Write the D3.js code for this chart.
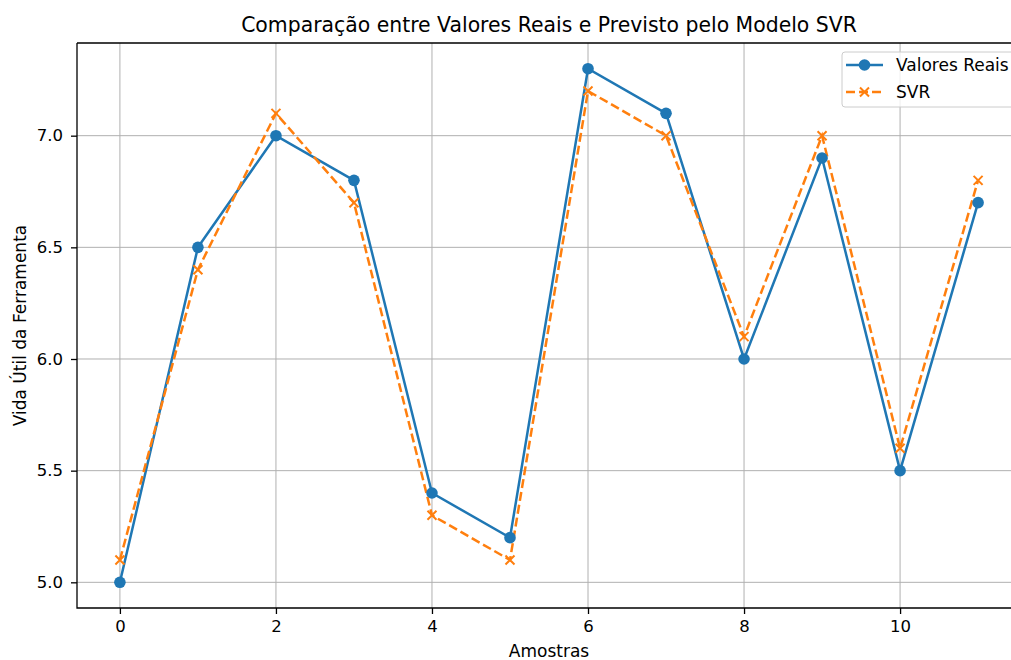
<!DOCTYPE html>
<html>
<head>
<meta charset="utf-8">
<script src="https://cdn.jsdelivr.net/npm/d3@7"></script>
<style>
  body { margin: 0; background: #fff; }
  text { font-family: "DejaVu Sans", sans-serif; fill: #000; }
</style>
</head>
<body>
<div id="chart"></div>
<script>
const samples = [0, 1, 2, 3, 4, 5, 6, 7, 8, 9, 10, 11];
const realValues = [5.0, 6.5, 7.0, 6.8, 5.4, 5.2, 7.3, 7.1, 6.0, 6.9, 5.5, 6.7];
const svrValues = [5.1, 6.4, 7.1, 6.7, 5.3, 5.1, 7.2, 7.0, 6.1, 7.0, 5.6, 6.8];
const xTicks = [0, 2, 4, 6, 8, 10];
const yTicks = [5.0, 5.5, 6.0, 6.5, 7.0];

const width = 1011;
const height = 660;
const margin = { left: 77, top: 43, right: 1021, bottom: 608 };

const svg = d3.select("#chart").append("svg")
  .attr("width", width)
  .attr("height", height);

const x = d3.scaleLinear().domain([-0.55, 11.55]).range([margin.left, margin.right]);
const y = d3.scaleLinear().domain([4.885, 7.415]).range([margin.bottom, margin.top]);

// grid
const grid = svg.append("g").attr("stroke", "#b0b0b0").attr("stroke-width", 1);
grid.selectAll(".vx").data(xTicks).join("line")
  .attr("x1", (d) => x(d)).attr("x2", (d) => x(d))
  .attr("y1", margin.top).attr("y2", margin.bottom);
grid.selectAll(".hy").data(yTicks).join("line")
  .attr("x1", margin.left).attr("x2", margin.right)
  .attr("y1", (d) => y(d)).attr("y2", (d) => y(d));

// axes
const xAxis = svg.append("g")
  .attr("transform", `translate(0,${margin.bottom})`)
  .call(d3.axisBottom(x).tickValues(xTicks).tickFormat(d3.format("d")).tickSize(6).tickPadding(6));
const yAxis = svg.append("g")
  .attr("transform", `translate(${margin.left},0)`)
  .call(d3.axisLeft(y).tickValues(yTicks).tickFormat(d3.format(".1f")).tickSize(6).tickPadding(8));
[xAxis, yAxis].forEach((a) => {
  a.select(".domain").remove();
  a.selectAll("text").attr("font-size", 16.5).attr("font-family", "DejaVu Sans, sans-serif").attr("fill", "#000");
  a.selectAll("line").attr("stroke", "#000").attr("stroke-width", 1.3);
});

// frame
svg.append("path")
  .attr("d", `M${margin.left},${margin.top}H${margin.right}M${margin.left},${margin.top}V${margin.bottom}H${margin.right}`)
  .attr("fill", "none").attr("stroke", "#000").attr("stroke-width", 1.3);

const blue = "#1f77b4";
const orange = "#ff7f0e";

const line = (vals) => d3.line().x((d, i) => x(samples[i])).y((d) => y(d))(vals);

svg.append("path").attr("d", line(realValues))
  .attr("fill", "none").attr("stroke", blue).attr("stroke-width", 2.5);
svg.append("path").attr("d", line(svrValues))
  .attr("fill", "none").attr("stroke", orange).attr("stroke-width", 2.5).attr("stroke-dasharray", "9,4");

svg.append("g").selectAll("circle").data(realValues).join("circle")
  .attr("cx", (d, i) => x(samples[i])).attr("cy", (d) => y(d)).attr("r", 5.8).attr("fill", blue);

const cross = (g, cx, cy) => {
  g.append("path")
    .attr("d", `M${cx - 4.5},${cy - 4.5}L${cx + 4.5},${cy + 4.5}M${cx - 4.5},${cy + 4.5}L${cx + 4.5},${cy - 4.5}`)
    .attr("stroke", orange).attr("stroke-width", 2);
};
const crosses = svg.append("g");
svrValues.forEach((d, i) => cross(crosses, x(samples[i]), y(d)));

// legend
const lg = svg.append("g");
lg.append("rect").attr("x", 842).attr("y", 52).attr("width", 190).attr("height", 55).attr("rx", 3)
  .attr("fill", "#fff").attr("fill-opacity", 0.8).attr("stroke", "#cccccc");
lg.append("line").attr("x1", 846).attr("x2", 883).attr("y1", 65).attr("y2", 65).attr("stroke", blue).attr("stroke-width", 2.5);
lg.append("circle").attr("cx", 864.5).attr("cy", 65).attr("r", 5.8).attr("fill", blue);
lg.append("text").attr("x", 896).attr("y", 71).attr("font-size", 17).text("Valores Reais");
lg.append("line").attr("x1", 846).attr("x2", 883).attr("y1", 92).attr("y2", 92).attr("stroke", orange).attr("stroke-width", 2.5).attr("stroke-dasharray", "9,4");
cross(lg, 864.5, 92);
lg.append("text").attr("x", 896).attr("y", 98).attr("font-size", 17).text("SVR");

// title & labels
const cx = (margin.left + margin.right) / 2;
svg.append("text").attr("x", cx).attr("y", 32).attr("text-anchor", "middle").attr("font-size", 20.4)
  .text("Comparação entre Valores Reais e Previsto pelo Modelo SVR");
svg.append("text").attr("x", cx).attr("y", 657).attr("text-anchor", "middle").attr("font-size", 17).text("Amostras");
svg.append("text").attr("transform", `translate(26,${(margin.top + margin.bottom) / 2}) rotate(-90)`)
  .attr("text-anchor", "middle").attr("font-size", 17).text("Vida Útil da Ferramenta");
</script>
</body>
</html>
